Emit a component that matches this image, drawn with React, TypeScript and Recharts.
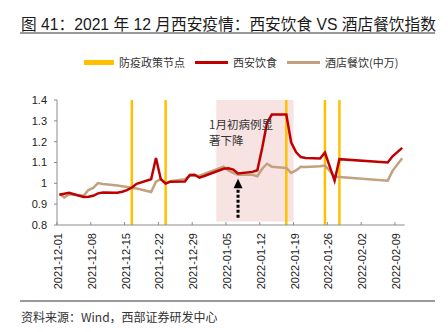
import React from "react";
import {
  LineChart,
  Line,
  XAxis,
  YAxis,
  ReferenceLine,
  ReferenceArea,
  ReferenceDot,
  Legend,
} from "recharts";

/* ===== Data (trading days) ===== */
const DATES = [
  "2021-12-01", "2021-12-02", "2021-12-03", "2021-12-06", "2021-12-07", "2021-12-08",
  "2021-12-09", "2021-12-10", "2021-12-13", "2021-12-14", "2021-12-15", "2021-12-16",
  "2021-12-17", "2021-12-20", "2021-12-21", "2021-12-22", "2021-12-23", "2021-12-24",
  "2021-12-27", "2021-12-28", "2021-12-29", "2021-12-30", "2021-12-31", "2022-01-04",
  "2022-01-05", "2022-01-06", "2022-01-07", "2022-01-10", "2022-01-11", "2022-01-12",
  "2022-01-13", "2022-01-14", "2022-01-17", "2022-01-18", "2022-01-19", "2022-01-20",
  "2022-01-21", "2022-01-24", "2022-01-25", "2022-01-26", "2022-01-27", "2022-01-28",
  "2022-02-07", "2022-02-08", "2022-02-09", "2022-02-10",
];

const XIAN_FOOD = [
  0.945, 0.95, 0.955, 0.935, 0.936, 0.94,
  0.952, 0.956, 0.955, 0.96, 0.967, 0.98,
  0.998, 1.02, 1.122, 1.02, 0.999, 1.008,
  1.009, 1.04, 1.041, 1.027, 1.035, 1.07,
  1.072, 1.066, 1.047, 1.055, 1.063, 1.17,
  1.29, 1.33, 1.33, 1.197, 1.15, 1.126,
  1.122, 1.119, 1.148, 1.08, 1.013, 1.116,
  1.1, 1.13, 1.15, 1.17,
];

const HOTEL_DINING = [
  0.95, 0.932, 0.947, 0.94, 0.968, 0.978,
  1.001, 0.997, 0.99, 0.986, 0.982, 0.978,
  0.975, 0.958, 1.008, 1.02, 1.0, 1.01,
  1.02, 1.037, 1.037, 1.037, 1.045, 1.08,
  1.062, 1.05, 1.041, 1.041, 1.034, 1.07,
  1.094, 1.08, 1.074, 1.05, 1.062, 1.08,
  1.078, 1.082, 1.085, 1.06, 1.032, 1.03,
  1.013, 1.06, 1.09, 1.12,
];

const POLICY_DATES = ["2021-12-16", "2021-12-23", "2022-01-17", "2022-01-25", "2022-01-28"];
const TICK_DATES = [
  "2021-12-01", "2021-12-08", "2021-12-15", "2021-12-22", "2021-12-29", "2022-01-05",
  "2022-01-12", "2022-01-19", "2022-01-26", "2022-02-02", "2022-02-09",
];
const Y_TICKS = [0.8, 0.9, 1, 1.1, 1.2, 1.3, 1.4];
const HIGHLIGHT = ["2022-01-03", "2022-01-19"];
const ARROW_DATE = "2022-01-07";

const START = Date.UTC(2021, 11, 1);
const dayOf = (d: string) => {
  const [y, m, dd] = d.split("-").map(Number);
  return Math.round((Date.UTC(y, m - 1, dd) - START) / 86400000);
};
// points sit in the middle of their day
const mid = (d: string) => dayOf(d) + 0.5;

const data = DATES.map((d, i) => ({
  x: mid(d),
  food: XIAN_FOOD[i],
  hotel: HOTEL_DINING[i],
}));

const tickMap: Record<number, string> = {};
TICK_DATES.forEach((d) => (tickMap[dayOf(d)] = d));

const RED = "#c00000";
const TAN = "#c3a07e";
const GOLD = "#ffc000";
const FONT = '"Liberation Sans", Arial, "Noto Sans CJK SC", sans-serif';
const CJK = '"Noto Sans CJK SC", sans-serif';

function DateTick({ x, y, payload }: any) {
  return (
    <g>
      <line x1={x} y1={y - 3} x2={x} y2={y} stroke="#8c8c8c" />
      <text
        transform={`translate(${x + 1},${y + 8}) rotate(-90)`}
        textAnchor="end"
        dominantBaseline="central"
        fontSize={11}
        fontFamily={FONT}
        fill="#222"
      >
        {tickMap[payload.value]}
      </text>
    </g>
  );
}

function LegendBox() {
  const item = (swatch: React.ReactNode, label: string) => (
    <div style={{ display: "flex", alignItems: "center", marginRight: 10 }}>
      {swatch}
      <span style={{ marginLeft: 5, fontSize: 11, fontFamily: CJK, color: "#333" }}>{label}</span>
    </div>
  );
  return (
    <div style={{ display: "flex", paddingLeft: 84 }}>
      {item(<div style={{ width: 30, height: 5, background: GOLD }} />, "防疫政策节点")}
      {item(<div style={{ width: 33, height: 3, background: RED }} />, "西安饮食")}
      {item(<div style={{ width: 33, height: 3, background: TAN }} />, "酒店餐饮(中万)")}
    </div>
  );
}

function ArrowHead({ cx, cy }: any) {
  return <polygon points={`${cx},${cy - 5} ${cx - 4.5},${cy + 4.5} ${cx + 4.5},${cy + 4.5}`} fill="#000" />;
}

export default function App() {
  return (
    <div style={{ position: "absolute", left: 0, top: 0, width: 448, height: 332, background: "#fff" }}>
      <div
        style={{
          position: "absolute",
          left: 21,
          top: 12,
          fontSize: 15.7,
          fontFamily: FONT,
          color: "#1a1a1a",
          whiteSpace: "nowrap",
        }}
      >
        图 41：2021 年 12 月西安疫情：西安饮食 VS 酒店餐饮指数
      </div>
      <div style={{ position: "absolute", left: 20, top: 32, width: 415, height: 2, background: "#999" }} />

      <LineChart
        width={448}
        height={332}
        data={data}
        margin={{ top: 84, right: 43.4, bottom: 0, left: 0 }}
        style={{ position: "absolute", left: 0, top: 0 }}
      >
        <Legend
          verticalAlign="top"
          content={() => <LegendBox />}
          wrapperStyle={{ top: 54, left: 0, width: 448 }}
        />
        <XAxis
          type="number"
          dataKey="x"
          domain={[0, 72]}
          ticks={TICK_DATES.map(dayOf)}
          tick={<DateTick />}
          tickLine={false}
          tickSize={0}
          tickMargin={0}
          height={107}
          stroke="#8c8c8c"
          allowDataOverflow
        />
        <YAxis
          domain={[0.8, 1.4]}
          ticks={Y_TICKS}
          tickFormatter={(v: number) => String(+v.toFixed(1))}
          width={57}
          tickSize={3}
          tickMargin={7}
          stroke="#8c8c8c"
          tick={{ fontSize: 11, fontFamily: FONT, fill: "#222" }}
          allowDataOverflow
        />
        <ReferenceArea
          x1={dayOf(HIGHLIGHT[0])}
          x2={dayOf(HIGHLIGHT[1])}
          y1={0.817}
          y2={1.4}
          fill="#f8e3e3"
          fillOpacity={1}
          stroke="none"
        />
        {POLICY_DATES.map((d) => (
          <ReferenceLine key={d} x={mid(d)} stroke={GOLD} strokeWidth={2.5} />
        ))}
        <ReferenceLine
          segment={[
            { x: mid(ARROW_DATE), y: 0.835 },
            { x: mid(ARROW_DATE), y: 0.985 },
          ]}
          stroke="#000"
          strokeWidth={3}
          strokeDasharray="3 2"
        />
        <ReferenceDot x={mid(ARROW_DATE)} y={0.998} r={5} shape={<ArrowHead />} />
        <Line
          type="linear"
          dataKey="hotel"
          stroke={TAN}
          strokeWidth={2.5}
          dot={false}
          isAnimationActive={false}
        />
        <Line
          type="linear"
          dataKey="food"
          stroke={RED}
          strokeWidth={2.5}
          dot={false}
          isAnimationActive={false}
        />
      </LineChart>

      <div
        style={{
          position: "absolute",
          left: 209,
          top: 117,
          fontSize: 11.5,
          lineHeight: "15.7px",
          fontFamily: CJK,
          color: "#333",
        }}
      >
        1月初病例显
        <br />
        著下降
      </div>

      <div style={{ position: "absolute", left: 20, top: 300, width: 415, height: 2, background: "#999" }} />
      <div
        style={{
          position: "absolute",
          left: 21,
          top: 308,
          fontSize: 12,
          fontFamily: CJK,
          color: "#333",
          whiteSpace: "nowrap",
        }}
      >
        资料来源：Wind，西部证券研发中心
      </div>
    </div>
  );
}
